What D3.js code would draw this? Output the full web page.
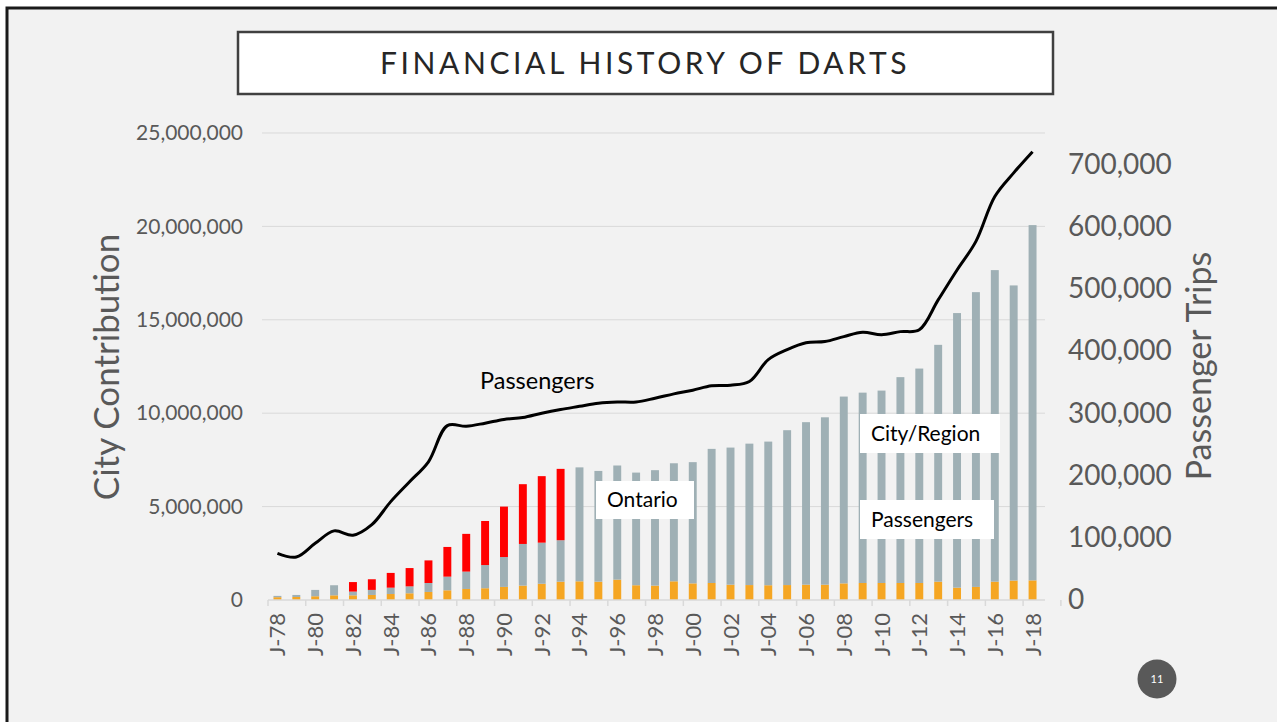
<!DOCTYPE html>
<html>
<head>
<meta charset="utf-8">
<script src="https://cdn.jsdelivr.net/npm/d3@7"></script>
<style>
  body { margin: 0; background: #fff; }
  svg { display: block; font-family: Lato, "Open Sans", sans-serif; }
</style>
</head>
<body>
<svg id="chart" width="1277" height="722"></svg>
<script>
// years 1978..2018, labelled like J-78
const years = d3.range(1978, 2019);
const yearLabels = years.map(y => "J-" + String(y % 100).padStart(2, "0"));

// stacked bar pieces (dollars)
const passengerRevenue = [
  150000, 160000, 200000, 250000, 250000, 270000, 320000, 360000, 430000, 520000,
  590000, 630000, 700000, 770000, 870000, 980000, 1000000, 980000, 1090000, 790000,
  770000, 1000000, 890000, 910000, 820000, 800000, 790000, 800000, 820000, 820000,
  890000, 910000, 910000, 910000, 910000, 980000, 660000, 700000, 980000, 1040000,
  1050000
];
const cityRegion = [
  70000, 110000, 340000, 540000, 200000, 270000, 340000, 370000, 480000, 730000,
  930000, 1240000, 1600000, 2230000, 2200000, 2220000, 6100000, 5930000, 6110000, 6030000,
  6180000, 6320000, 6490000, 7180000, 7340000, 7570000, 7690000, 8290000, 8700000, 8960000,
  10000000, 10190000, 10300000, 11020000, 11480000, 12680000, 14700000, 15780000, 16680000, 15800000,
  19020000
];
const ontario = [
  0, 0, 0, 0, 510000, 570000, 790000, 980000, 1210000, 1590000,
  2020000, 2360000, 2700000, 3200000, 3560000, 3820000, 0, 0, 0, 0,
  0, 0, 0, 0, 0, 0, 0, 0, 0, 0,
  0, 0, 0, 0, 0, 0, 0, 0, 0, 0,
  0
];
// passenger trips (right axis)
const passengerTrips = [
  75000, 69000, 91000, 111000, 104000, 121000, 158000, 190000, 222000, 280000,
  279000, 284000, 290000, 293000, 300000, 306000, 311000, 316000, 318000, 318000,
  324000, 331000, 337000, 344000, 345000, 351000, 386000, 402000, 413000, 415000,
  423000, 430000, 426000, 431000, 434000, 482000, 530000, 576000, 648000, 686000,
  720000
];

const seriesKeys = ["Passengers", "City/Region", "Ontario"];
const colours = { "Passengers": "#f5a623", "City/Region": "#9fb0b5", "Ontario": "#ff0000" };

const rows = years.map((y, i) => ({
  label: yearLabels[i],
  "Passengers": passengerRevenue[i],
  "City/Region": cityRegion[i],
  "Ontario": ontario[i]
}));

const svg = d3.select("#chart");

// slide background + frame
svg.append("rect").attr("x", 7).attr("y", 8).attr("width", 1300).attr("height", 800)
  .attr("fill", "#f2f2f2").attr("stroke", "#1a1a1a").attr("stroke-width", 3);

// title box
svg.append("rect").attr("x", 238).attr("y", 32).attr("width", 815).attr("height", 62)
  .attr("fill", "#fff").attr("stroke", "#404040").attr("stroke-width", 2.5);
svg.append("text").attr("x", 645).attr("y", 74).attr("text-anchor", "middle")
  .attr("font-size", 30).attr("letter-spacing", 3.6).attr("fill", "#262626")
  .text("FINANCIAL HISTORY OF DARTS");

const margin = { left: 268, right: 1042, top: 133, bottom: 600 };

const x = d3.scaleBand().domain(yearLabels).range([margin.left, margin.right]).paddingInner(0.58).paddingOuter(0.29);
const y = d3.scaleLinear().domain([0, 25000000]).range([margin.bottom, margin.top]);
const y2 = d3.scaleLinear().domain([0, 750000]).range([margin.bottom, margin.top]);

// gridlines
svg.append("g").selectAll("line").data(y.ticks(5).filter(d => d > 0)).join("line")
  .attr("x1", margin.left - 6).attr("x2", margin.right + 3)
  .attr("y1", d => y(d)).attr("y2", d => y(d))
  .attr("stroke", "#d9d9d9").attr("stroke-width", 1);

// left axis labels
const fmt = d3.format(",");
const yAxis = svg.append("g").attr("transform", `translate(${margin.left - 22},0)`)
  .call(d3.axisLeft(y).tickValues(d3.range(0, 25000001, 5000000)).tickFormat(fmt).tickSize(0));
yAxis.select(".domain").remove();
yAxis.selectAll("text").attr("font-size", 21).attr("fill", "#595959").attr("font-family", "Lato, sans-serif");

// right axis labels
const y2Axis = svg.append("g").attr("transform", `translate(${1068},0)`)
  .call(d3.axisRight(y2).tickValues(d3.range(0, 700001, 100000)).tickFormat(fmt).tickSize(0));
y2Axis.select(".domain").remove();
y2Axis.selectAll("text").attr("font-size", 28).attr("fill", "#595959").attr("font-family", "Lato, sans-serif").attr("x", 0);

// axis titles
svg.append("text").attr("transform", "translate(119,367) rotate(-90)").attr("text-anchor", "middle")
  .attr("font-size", 35).attr("fill", "#595959").text("City Contribution");
svg.append("text").attr("transform", "translate(1211,366) rotate(-90)").attr("text-anchor", "middle")
  .attr("font-size", 34).attr("fill", "#595959").text("Passenger Trips");

// stacked bars
const stack = d3.stack().keys(seriesKeys);
const layers = stack(rows);
svg.append("g").selectAll("g").data(layers).join("g")
  .attr("fill", d => colours[d.key])
  .selectAll("rect").data(d => d.filter(s => s[1] > s[0])).join("rect")
  .attr("x", d => x(d.data.label))
  .attr("width", x.bandwidth())
  .attr("y", d => y(d[1]))
  .attr("height", d => y(d[0]) - y(d[1]));

// x axis
const step = x.step();
const xAxis = svg.append("g").attr("transform", `translate(0,${margin.bottom})`);
xAxis.append("line").attr("x1", margin.left).attr("x2", margin.right + 3)
  .attr("stroke", "#d9d9d9").attr("stroke-width", 1.5);
xAxis.selectAll("line.tick").data(yearLabels.filter((d, i) => i % 2 === 0).concat(["end"])).join("line")
  .attr("class", "tick")
  .attr("x1", (d, i) => margin.left + i * 2 * step).attr("x2", (d, i) => margin.left + i * 2 * step)
  .attr("y1", 0).attr("y2", 6).attr("stroke", "#d9d9d9").attr("stroke-width", 1.5);
xAxis.selectAll("text").data(yearLabels.filter((d, i) => i % 2 === 0)).join("text")
  .attr("transform", d => `translate(${x(d) + x.bandwidth() / 2 + 8},13) rotate(-90)`)
  .attr("text-anchor", "end").attr("font-size", 22).attr("fill", "#595959")
  .text(d => d);

// passengers line
const line = d3.line()
  .x((d, i) => x(yearLabels[i]) + x.bandwidth() / 2)
  .y(d => y2(d))
  .curve(d3.curveCatmullRom.alpha(0.5));
svg.append("path").datum(passengerTrips)
  .attr("fill", "none").attr("stroke", "#000").attr("stroke-width", 3)
  .attr("d", line);

// annotations
svg.append("text").attr("x", 480).attr("y", 389).attr("font-size", 23.5).attr("fill", "#000").text("Passengers");

const boxes = [
  { text: "Ontario", x: 596, y: 481, w: 98, h: 38 },
  { text: "City/Region", x: 860, y: 414, w: 140, h: 39 },
  { text: "Passengers", x: 860, y: 500, w: 134, h: 39 }
];
const boxG = svg.append("g").selectAll("g").data(boxes).join("g");
boxG.append("rect").attr("x", d => d.x).attr("y", d => d.y).attr("width", d => d.w).attr("height", d => d.h).attr("fill", "#fff");
boxG.append("text").attr("x", d => d.x + 11).attr("y", d => d.y + d.h / 2 + 7)
  .attr("font-size", 21).attr("fill", "#000").text(d => d.text);

// page number
svg.append("circle").attr("cx", 1157).attr("cy", 679).attr("r", 19.5).attr("fill", "#595959");
svg.append("text").attr("x", 1157).attr("y", 683).attr("text-anchor", "middle")
  .attr("font-size", 11).attr("fill", "#fff").text("11");
</script>
</body>
</html>
